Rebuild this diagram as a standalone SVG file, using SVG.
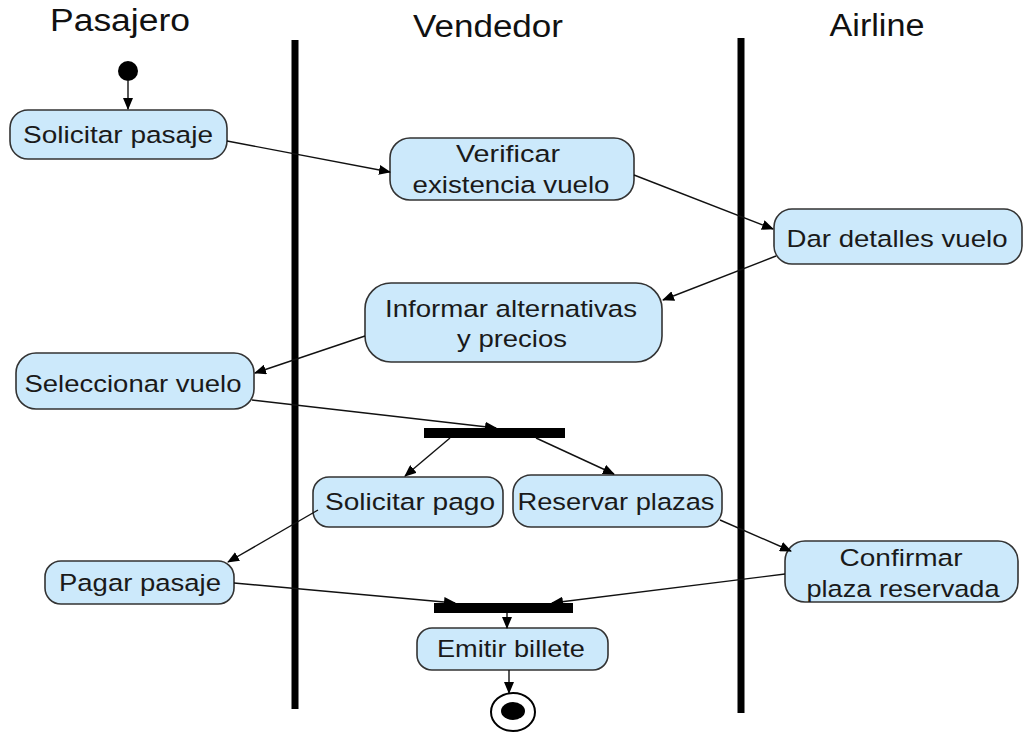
<svg xmlns="http://www.w3.org/2000/svg" width="1026" height="737" viewBox="0 0 1026 737">
<style>
.hdr{font-family:"Liberation Sans",Arial,sans-serif;font-size:31px;fill:#111;text-anchor:middle}
.act rect{fill:#cce9fb;stroke:#333;stroke-width:1.6}
.act text{font-family:"Liberation Sans",Arial,sans-serif;font-size:24.5px;fill:#1a1a1a;text-anchor:middle}
.lane{stroke:#000;stroke-width:7}
.bar{fill:#000}
#connectors line{stroke:#111;stroke-width:1.4;marker-end:url(#ah)}
</style>
<defs>
<marker id="ah" markerWidth="12" markerHeight="10" refX="11" refY="5" orient="auto" markerUnits="userSpaceOnUse">
<path d="M0,0 L12,5 L0,10 Z" fill="#000"/>
</marker>
</defs>
<rect width="1026" height="737" fill="#fff"/>
<g id="headers">
<text class="hdr" x="120" y="31" textLength="140" lengthAdjust="spacingAndGlyphs">Pasajero</text>
<text class="hdr" x="488" y="37" textLength="150" lengthAdjust="spacingAndGlyphs">Vendedor</text>
<text class="hdr" x="877" y="36" textLength="95" lengthAdjust="spacingAndGlyphs">Airline</text>
</g>
<g id="lanes">
<line class="lane" x1="295" y1="40" x2="295" y2="709"/>
<line class="lane" x1="741" y1="38" x2="741" y2="713"/>
</g>
<g id="start"><ellipse cx="128" cy="71" rx="10" ry="10" fill="#000"/></g>
<g id="n1" class="act"><rect x="10" y="110" width="217" height="49" rx="18"/><text x="118" y="143" textLength="190" lengthAdjust="spacingAndGlyphs">Solicitar pasaje</text></g>
<g id="n2" class="act"><rect x="390" y="138" width="244" height="62" rx="20"/><text x="508" y="162" textLength="104" lengthAdjust="spacingAndGlyphs">Verificar</text><text x="511" y="193" textLength="197" lengthAdjust="spacingAndGlyphs">existencia vuelo</text></g>
<g id="n3" class="act"><rect x="774" y="209" width="248" height="55" rx="18"/><text x="897" y="247" textLength="221" lengthAdjust="spacingAndGlyphs">Dar detalles vuelo</text></g>
<g id="n4" class="act"><rect x="365" y="283" width="297" height="79" rx="26"/><text x="511" y="317" textLength="252" lengthAdjust="spacingAndGlyphs">Informar alternativas</text><text x="512" y="347" textLength="110" lengthAdjust="spacingAndGlyphs">y precios</text></g>
<g id="n5" class="act"><rect x="16" y="353" width="238" height="56" rx="20"/><text x="133" y="392" textLength="217" lengthAdjust="spacingAndGlyphs">Seleccionar vuelo</text></g>
<g id="fork" class="bar"><rect x="424" y="428" width="141" height="10"/></g>
<g id="n6" class="act"><rect x="313" y="477" width="190" height="50" rx="16"/><text x="410" y="510" textLength="170" lengthAdjust="spacingAndGlyphs">Solicitar pago</text></g>
<g id="n7" class="act"><rect x="513" y="475" width="209" height="52" rx="18"/><text x="616" y="510" textLength="197" lengthAdjust="spacingAndGlyphs">Reservar plazas</text></g>
<g id="n8" class="act"><rect x="45" y="561" width="189" height="43" rx="16"/><text x="140" y="591" textLength="162" lengthAdjust="spacingAndGlyphs">Pagar pasaje</text></g>
<g id="n9" class="act"><rect x="785" y="541" width="233" height="61" rx="20"/><text x="901" y="566" textLength="123" lengthAdjust="spacingAndGlyphs">Confirmar</text><text x="903" y="597" textLength="193" lengthAdjust="spacingAndGlyphs">plaza reservada</text></g>
<g id="join" class="bar"><rect x="434" y="603" width="139" height="10"/></g>
<g id="n10" class="act"><rect x="417" y="628" width="191" height="42" rx="15"/><text x="511" y="657" textLength="148" lengthAdjust="spacingAndGlyphs">Emitir billete</text></g>
<g id="end"><ellipse cx="513" cy="712" rx="22" ry="19" fill="#fff" stroke="#000" stroke-width="2"/><ellipse cx="513" cy="711" rx="12" ry="9" fill="#000"/></g>
<g id="connectors">
<line x1="128" y1="81" x2="128" y2="109"/>
<line x1="227" y1="141" x2="390" y2="172"/>
<line x1="634" y1="175" x2="773" y2="229"/>
<line x1="776" y1="256" x2="663" y2="300"/>
<line x1="365" y1="336" x2="255" y2="373"/>
<line x1="252" y1="400" x2="496" y2="428"/>
<line x1="450" y1="438" x2="405" y2="476"/>
<line x1="536" y1="438" x2="614" y2="474"/>
<line x1="318" y1="510" x2="228" y2="562"/>
<line x1="720" y1="520" x2="791" y2="551"/>
<line x1="234" y1="583" x2="455" y2="603"/>
<line x1="785" y1="574" x2="552" y2="603"/>
<line x1="507" y1="613" x2="507" y2="628"/>
<line x1="509" y1="670" x2="509" y2="693"/>
</g>
</svg>
